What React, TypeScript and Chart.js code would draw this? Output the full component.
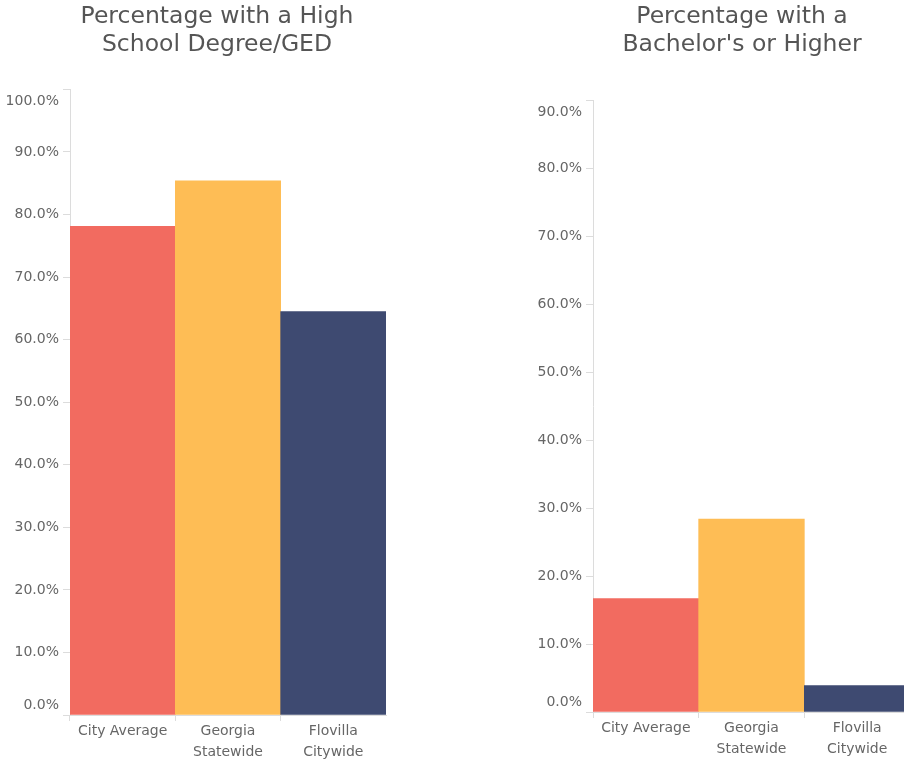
import React, { useEffect, useRef } from 'react';
import { Chart, registerables } from 'chart.js';

Chart.register(...registerables);

const CATEGORIES = [['City Average'], ['Georgia', 'Statewide'], ['Flovilla', 'Citywide']];
const BAR_COLORS = ['#F26B60', '#FEBD55', '#3E4A71'];

const HS_TITLE = ['Percentage with a High', 'School Degree/GED'];
const HS_VALUES = [78.1, 85.4, 64.5];
const HS_MAX = 100;

const BA_TITLE = ['Percentage with a', "Bachelor's or Higher"];
const BA_VALUES = [16.7, 28.4, 3.9];
const BA_MAX = 90;

const TICK_STEP = 10;

const FONT = "'DejaVu Sans', sans-serif";
const AXIS_COLOR = '#dcdcdc';
const LABEL_COLOR = '#666666';

const yLabelPlugin = {
  id: 'yLabels',
  afterDraw(chart: any) {
    const scale = chart.scales.y;
    const ctx = chart.ctx;
    ctx.save();
    ctx.font = `14px ${FONT}`;
    ctx.fillStyle = LABEL_COLOR;
    ctx.textAlign = 'right';
    ctx.textBaseline = 'middle';
    const x = scale.right - 11;
    scale.ticks.forEach((t: any) => {
      let y = scale.getPixelForValue(t.value);
      if (t.value === scale.max) y += 12;
      if (t.value === scale.min) y -= 10;
      ctx.fillText(`${Number(t.value).toFixed(1)}%`, x, y);
    });
    ctx.restore();
  },
};

function makeConfig(
  title: string[],
  values: number[],
  max: number,
  axisWidth: number,
  axisHeight: number,
  titleBottom: number,
  padRight: number
): any {
  return {
    type: 'bar',
    data: {
      labels: CATEGORIES,
      datasets: [
        {
          data: values,
          backgroundColor: BAR_COLORS,
          borderWidth: 0,
          barPercentage: 1,
          categoryPercentage: 1,
        },
      ],
    },
    plugins: [yLabelPlugin],
    options: {
      responsive: false,
      animation: false,
      layout: { padding: 0 },
      plugins: {
        legend: { display: false },
        tooltip: { enabled: false },
        title: {
          display: true,
          text: title,
          color: '#555555',
          font: { family: FONT, size: 23.5, weight: 'normal', lineHeight: 1.2 },
          padding: { top: 3, bottom: titleBottom },
        },
      },
      scales: {
        x: {
          grid: {
            offset: true,
            drawOnChartArea: false,
            tickLength: 6,
            color: (c: any) => (c.type === 'tick' ? AXIS_COLOR : 'rgba(0,0,0,0)'),
          },
          border: { color: AXIS_COLOR },
          ticks: {
            color: LABEL_COLOR,
            font: { family: FONT, size: 14, lineHeight: 1.5 },
            padding: 0,
            maxRotation: 0,
            autoSkip: false,
          },
          afterFit: (s: any) => {
            s.height = axisHeight;
          },
        },
        y: {
          min: 0,
          max: max,
          grid: { drawOnChartArea: false, tickLength: 7, color: AXIS_COLOR },
          border: { color: AXIS_COLOR },
          ticks: {
            stepSize: TICK_STEP,
            color: 'rgba(0,0,0,0)',
            font: { family: FONT, size: 13 },
            callback: (v: any) => `${Number(v).toFixed(1)}%`,
          },
          afterFit: (s: any) => {
            s.width = axisWidth;
          },
        },
        spacer: {
          type: 'linear',
          position: 'right',
          display: true,
          grid: { display: false },
          border: { display: false },
          ticks: { display: false },
          afterFit: (s: any) => {
            s.width = padRight;
          },
        },
      },
    },
  };
}

function BarChart(props: { config: any; width: number; height: number; left: number }) {
  const ref = useRef<HTMLCanvasElement | null>(null);
  useEffect(() => {
    if (!ref.current) return;
    const chart = new Chart(ref.current, props.config);
    return () => chart.destroy();
  }, []);
  return (
    <canvas
      ref={ref}
      width={props.width}
      height={props.height}
      style={{ position: 'absolute', left: props.left, top: 0, width: props.width, height: props.height }}
    />
  );
}

export default function App() {
  const hsConfig = makeConfig(HS_TITLE, HS_VALUES, HS_MAX, 70, 51, 30, 48);
  const baConfig = makeConfig(BA_TITLE, BA_VALUES, BA_MAX, 73, 54, 41, 54);
  return (
    <div
      style={{
        position: 'absolute',
        left: 0,
        top: 0,
        width: 904,
        height: 766,
        overflow: 'hidden',
        background: '#ffffff',
      }}
    >
      <BarChart config={hsConfig} width={434} height={766} left={0} />
      <BarChart config={baConfig} width={444} height={766} left={520} />
    </div>
  );
}
